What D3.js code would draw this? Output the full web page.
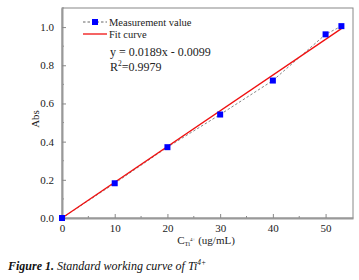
<!DOCTYPE html>
<html>
<head>
<meta charset="utf-8">
<script src="https://cdn.jsdelivr.net/npm/d3@7"></script>
<style>
  body { margin: 0; background: #fff; }
  svg text { font-family: "Liberation Serif", "DejaVu Serif", serif; }
</style>
</head>
<body>
<div id="chart"></div>
<script>
// measured standards
const conc = [0, 10, 20, 30, 40, 50, 53];
const absorb = [0, 0.182, 0.371, 0.542, 0.72, 0.962, 1.005];
// linear fit
const slope = 0.0189, intercept = -0.0099;
const fitRange = [0, 53];
const xTicks = [0, 10, 20, 30, 40, 50];
const yTicks = [0, 0.2, 0.4, 0.6, 0.8, 1.0];

const W = 359, H = 280;
const margin = { top: 8, right: 6, bottom: 62, left: 62 };
const width = W - margin.left - margin.right;
const height = H - margin.top - margin.bottom;
const FONT = "Liberation Serif, serif";

const svg = d3.select("#chart").append("svg").attr("width", W).attr("height", H)
  .attr("font-family", FONT);
const g = svg.append("g").attr("transform", `translate(${margin.left},${margin.top})`);

const x = d3.scaleLinear().domain([0, 55.2]).range([0, width]);
const y = d3.scaleLinear().domain([0, 1.1]).range([height, 0]);

// frame (top/right)
g.append("rect").attr("width", width).attr("height", height)
  .attr("fill", "none").attr("stroke", "#888").attr("stroke-width", 1);

// minor ticks
g.append("g").selectAll("line").data(d3.range(5, 55, 10)).enter().append("line")
  .attr("x1", d => x(d)).attr("x2", d => x(d)).attr("y1", height).attr("y2", height - 2)
  .attr("stroke", "#888");
g.append("g").selectAll("line").data([0.1, 0.3, 0.5, 0.7, 0.9, 1.1]).enter().append("line")
  .attr("x1", 0).attr("x2", 2).attr("y1", d => y(d)).attr("y2", d => y(d))
  .attr("stroke", "#888");

// axes
const xAxis = g.append("g").attr("transform", `translate(0,${height})`)
  .call(d3.axisBottom(x).tickValues(xTicks).tickFormat(d3.format("d")).tickSizeInner(-4).tickSizeOuter(0).tickPadding(6));
const yAxis = g.append("g")
  .call(d3.axisLeft(y).tickValues(yTicks).tickFormat(d3.format(".1f")).tickSizeInner(-4).tickSizeOuter(0).tickPadding(8));
[xAxis, yAxis].forEach(a => {
  a.attr("font-family", FONT).attr("font-size", 11);
  a.select(".domain").attr("stroke", "#999").attr("stroke-width", 2);
  a.selectAll(".tick line").attr("stroke", "#888");
  a.selectAll(".tick text").attr("fill", "#222");
});

// measured dashed line
const line = d3.line().x((d, i) => x(conc[i])).y(d => y(d));
g.append("path").datum(absorb).attr("d", line)
  .attr("fill", "none").attr("stroke", "#777").attr("stroke-width", 0.9).attr("stroke-dasharray", "2.5,2");

// fit line
g.append("line")
  .attr("x1", x(fitRange[0])).attr("y1", y(Math.max(0, slope * fitRange[0] + intercept)))
  .attr("x2", x(fitRange[1])).attr("y2", y(slope * fitRange[1] + intercept))
  .attr("stroke", "#f01010").attr("stroke-width", 1.3);

// markers
g.append("g").selectAll("rect").data(absorb).enter().append("rect")
  .attr("x", (d, i) => x(conc[i]) - 3).attr("y", d => y(d) - 3)
  .attr("width", 6).attr("height", 6).attr("fill", "#0000ff");

// legend
const lg = svg.append("g").attr("transform", "translate(83,22)").attr("font-size", 10.5).attr("fill", "#222");
lg.append("line").attr("x1", 0).attr("x2", 24).attr("y1", 0).attr("y2", 0)
  .attr("stroke", "#555").attr("stroke-width", 0.9).attr("stroke-dasharray", "2.5,2");
lg.append("rect").attr("x", 9).attr("y", -3).attr("width", 6).attr("height", 6).attr("fill", "#0000ff");
lg.append("text").attr("x", 26).attr("y", 3.5).text("Measurement value");
lg.append("line").attr("x1", 0).attr("x2", 24).attr("y1", 12).attr("y2", 12)
  .attr("stroke", "#f01010").attr("stroke-width", 1.3);
lg.append("text").attr("x", 26).attr("y", 15.5).text("Fit curve");

// equation
const eq = svg.append("g").attr("font-size", 12).attr("fill", "#222");
eq.append("text").attr("x", 110).attr("y", 56).text("y = 0.0189x - 0.0099");
const r2 = eq.append("text").attr("x", 110).attr("y", 71);
r2.append("tspan").text("R");
r2.append("tspan").attr("font-size", 7.5).attr("dy", -5).text("2");
r2.append("tspan").attr("dy", 5).text("=0.9979");

// axis titles
const xl = svg.append("text").attr("x", 206).attr("y", 244).attr("text-anchor", "middle")
  .attr("font-size", 11).attr("fill", "#222");
xl.append("tspan").text("C");
xl.append("tspan").attr("font-size", 6.5).attr("dy", 2).text("Ti");
xl.append("tspan").attr("font-size", 5).attr("dy", -5).text("4+");
xl.append("tspan").attr("dy", 3).text(" (ug/mL)");

svg.append("text").attr("transform", "translate(39,119) rotate(-90)").attr("text-anchor", "middle")
  .attr("font-size", 11).attr("fill", "#222").text("Abs");

// caption
const cap = svg.append("text").attr("x", 8).attr("y", 270).attr("font-size", 12).attr("fill", "#111")
  .attr("font-style", "italic");
cap.append("tspan").attr("font-weight", "bold").text("Figure 1.");
cap.append("tspan").text(" Standard working curve of Ti");
cap.append("tspan").attr("font-size", 7.5).attr("dy", -5).text("4+");
</script>
</body>
</html>
